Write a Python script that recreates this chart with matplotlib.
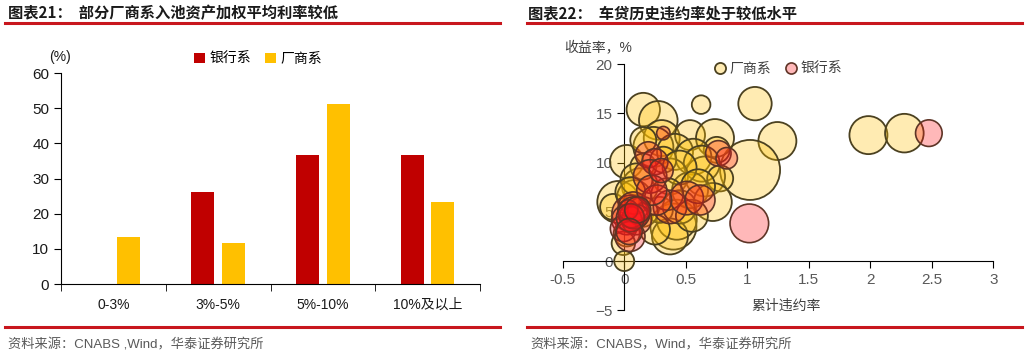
import matplotlib.pyplot as plt
from matplotlib.lines import Line2D
import numpy as np

plt.rcParams['font.family'] = ['Liberation Sans', 'Noto Sans CJK SC', 'DejaVu Sans']

# left chart: share of pool assets by weighted average rate
cats = ['0-3%', '3%-5%', '5%-10%', '10%及以上']
bank_share = [0, 26.3, 36.8, 36.8]
maker_share = [13.3, 11.7, 51.2, 23.3]

# right chart: cumulative default rate vs yield, bubble value
fac_x = [0.155, 0.277, 0.625, 1.063, 1.245, 1.023, 0.305, 0.535, 0.738, 0.752,
         0.02, 0.237, 0.413, 0.562, 0.657, 0.63, 0.372, 0.128, -0.048, 0.02,
         -0.007, 0.0, 0.40, 0.427, 0.372, 0.535, 0.78, 0.155, 0.318, -0.09,
         0.29, 0.45, 0.155, 0.72, 0.08, 0.15, 1.985, 2.277,
         0.1, 0.45, 0.55, 0.25, 0.6, 0.35, 0.05]
fac_y = [15.4, 14.3, 15.9, 16.0, 12.2, 9.26, 12.5, 12.8, 12.5, 11.3,
         10.1, 11.6, 11.1, 10.6, 8.6, 9.9, 8.6, 7.6, 6.0, 2.8,
         1.8, 0.0, 3.5, 4.2, 2.5, 7.2, 8.4, 9.6, 10.3, 5.5,
         5.2, 5.5, 12.3, 6.0, 6.5, 5.0, 12.8, 13.0,
         8.3, 9.5, 4.6, 3.2, 7.6, 6.8, 7.0]
fac_v = [16.7, 19.3, 9.3, 16.7, 19, 30, 18, 15, 19, 13,
         16.7, 20, 18, 18, 20, 18, 18, 18, 21, 13,
         11.7, 10, 23, 20, 18, 18, 13, 13, 13, 13,
         13, 16.7, 13, 19, 17, 15, 19, 19.3,
         16, 17, 16, 15, 17, 16, 15]

bank_x = [0.318, 0.765, 0.833, 0.196, 0.25, 0.21, 0.047, 0.074, 0.02, -0.007,
          0.372, 0.508, 0.616, 0.264, 0.10, 0.047, 0.224, 1.017, 2.476, 0.06, 0.03,
          0.08, 0.05, 0.11, 0.04, 0.3]
bank_y = [13.0, 10.95, 10.45, 10.8, 10.1, 8.6, 4.85, 5.5, 4.2, 3.3,
          5.5, 6.4, 6.2, 6.2, 4.2, 2.5, 7.2, 3.83, 13.0, 4.6, 5.2,
          4.9, 4.4, 5.2, 3.0, 9.2]
bank_v = [6.7, 12.7, 10.7, 13, 13, 16.7, 18, 15, 15, 13,
          16.7, 16.7, 15, 15, 15, 15, 15, 19.3, 13.3, 12, 10,
          16, 14, 13, 13, 12]

RED = '#C00000'
YEL = '#FFC000'
DPI = 100


def bubble_s(v):
    return (2 * np.array(v) * 72 / DPI) ** 2


fig = plt.figure(figsize=(10.27, 3.58), dpi=DPI)

# ---------- left: bar chart ----------
ax1 = fig.add_axes([0.0594, 0.2067, 0.408, 0.589])
x = np.arange(len(cats))
w = 0.22
ax1.bar(x - 0.145, bank_share, w, color=RED, label='银行系')
ax1.bar(x + 0.145, maker_share, w, color=YEL, label='厂商系')
ax1.set_xlim(-0.5, 3.5)
ax1.set_ylim(0, 60)
ax1.set_yticks(range(0, 61, 10))
ax1.set_xticks(x)
ax1.set_xticklabels(cats)
ax1.set_xticks(np.arange(-0.5, 3.6, 1), minor=True)
ax1.tick_params(axis='x', which='major', length=0, pad=10, labelsize=10, colors='#1a1a1a')
ax1.tick_params(axis='x', which='minor', length=5, color='black')
ax1.tick_params(axis='y', length=5, labelsize=11, colors='#1a1a1a')
ax1.tick_params(axis='y', color='black')
for s in ['top', 'right']:
    ax1.spines[s].set_visible(False)
ax1.legend(loc='upper center', bbox_to_anchor=(0.47, 1.16), ncol=2, frameon=False,
           fontsize=10, handlelength=0.8, handleheight=0.8, handletextpad=0.3,
           columnspacing=1.0)
fig.text(0.058, 0.84, '(%)', ha='center', va='center', fontsize=10, color='#1a1a1a')

# ---------- right: bubble chart ----------
fac_face = (1, 0.753, 0, 0.3)
bank_face = (1, 0.08, 0.1, 0.3)
ax2 = fig.add_axes([0.5479, 0.1335, 0.4193, 0.6869])
ax2.scatter(fac_x, fac_y, s=bubble_s(fac_v), facecolor=fac_face,
            edgecolor='#4B4120', linewidth=1.3, zorder=3)
ax2.scatter(bank_x, bank_y, s=bubble_s(bank_v), facecolor=bank_face,
            edgecolor='#5E3426', linewidth=1.2, zorder=3)
ax2.set_xlim(-0.5, 3)
ax2.set_ylim(-5, 20)
ax2.set_xticks([-0.5, 0, 0.5, 1, 1.5, 2, 2.5, 3])
ax2.set_xticklabels(['-0.5', '0', '0.5', '1', '1.5', '2', '2.5', '3'])
ax2.set_yticks([-5, 0, 5, 10, 15, 20])
ax2.spines['left'].set_position(('data', 0))
ax2.spines['bottom'].set_position(('data', 0))
for s in ['top', 'right']:
    ax2.spines[s].set_visible(False)
ax2.tick_params(length=5, labelsize=11, labelcolor='#595959', color='black')
handles = [Line2D([], [], ls='none', marker='o', markersize=8, markerfacecolor=fac_face,
                  markeredgecolor='#4B4120', markeredgewidth=1.3),
           Line2D([], [], ls='none', marker='o', markersize=8, markerfacecolor=bank_face,
                  markeredgecolor='#5E3426', markeredgewidth=1.2)]
ax2.legend(handles, ['厂商系', '银行系'], loc='upper center', bbox_to_anchor=(0.5, 1.06),
           ncol=2, frameon=False, fontsize=10, handlelength=0.8, handletextpad=0.3,
           columnspacing=1.0, labelcolor='#404040')
fig.text(0.582, 0.869, '收益率，%', ha='center', va='center', fontsize=10, color='#404040')
fig.text(0.765, 0.145, '累计违约率', ha='center', va='center', fontsize=10, color='#404040')

# ---------- titles, rules, sources ----------
fig.text(0.008, 0.962, '图表21：  部分厂商系入池资产加权平均利率较低', fontsize=11,
         fontweight='bold', va='center', family=['Noto Sans CJK SC'], color='#1a1a1a')
fig.text(0.514, 0.962, '图表22：  车贷历史违约率处于较低水平', fontsize=11,
         fontweight='bold', va='center', family=['Noto Sans CJK SC'], color='#1a1a1a')
for x0, x1 in [(0.005, 0.487), (0.513, 0.995)]:
    fig.add_artist(Line2D([x0, x1], [0.935, 0.935], color='#C8161D', lw=2.2))
    fig.add_artist(Line2D([x0, x1], [0.087, 0.087], color='#C8161D', lw=2.2))
fig.text(0.008, 0.036, '资料来源：CNABS ,Wind，华泰证券研究所', fontsize=9.5,
         va='center', color='#595959')
fig.text(0.516, 0.036, '资料来源：CNABS，Wind，华泰证券研究所', fontsize=9.5,
         va='center', color='#595959')

fig.savefig('out.png', dpi=DPI)
